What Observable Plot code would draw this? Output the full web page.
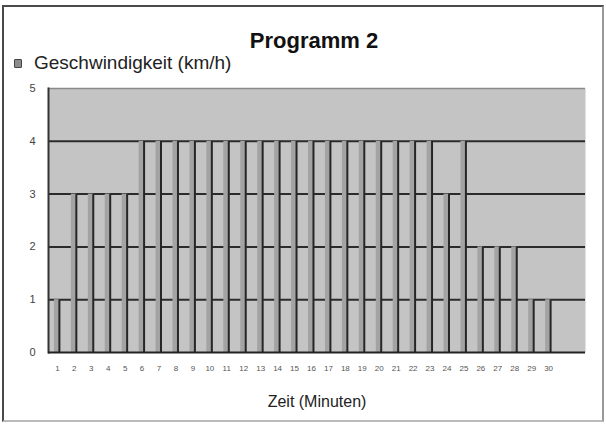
<!DOCTYPE html>
<html>
<head>
<meta charset="utf-8">
<script src="https://cdn.jsdelivr.net/npm/d3@7"></script>
<script src="https://cdn.jsdelivr.net/npm/@observablehq/plot@0.6"></script>
<style>
  html, body { margin: 0; padding: 0; background: #fff; }
  #wrap { position: relative; width: 606px; height: 426px; overflow: hidden; font-family: "Liberation Sans", Arial, sans-serif; }
  #box { position: absolute; left: 2px; top: 5px; width: 598px; height: 413px; border: 2px solid #4a4a4a; border-bottom-color: #bbb; border-right-color: #999; }
  #title { position: absolute; left: 0; width: 628px; top: 28px; text-align: center; font-size: 22px; font-weight: bold; color: #111; }
  #legend { position: absolute; left: 14px; top: 52px; font-size: 19px; color: #222; display: flex; align-items: center; }
  #legend .sw { width: 6px; height: 7px; background: #8c8c8c; border: 1px solid #444; border-radius: 1px; margin-right: 12px; }
  #chart { position: absolute; left: 0; top: 0; }
</style>
</head>
<body>
<div id="wrap">
  <div id="box"></div>
  <div id="chart"></div>
  <div id="title">Programm 2</div>
  <div id="legend"><span class="sw"></span><span>Geschwindigkeit (km/h)</span></div>
</div>
<script>
const minutes = d3.range(1, 31);
const speeds = [1, 3, 3, 3, 3, 4, 4, 4, 4, 4, 4, 4, 4, 4, 4, 4, 4, 4, 4, 4, 4, 4, 4, 3, 4, 2, 2, 2, 1, 1];
const yTicks = [0, 1, 2, 3, 4, 5];
const xLabel = "Zeit (Minuten)";

const data = minutes.map((m, i) => ({minute: m, speed: speeds[i]}));

const chart = Plot.plot({
  width: 606,
  height: 426,
  marginLeft: 48,
  marginRight: 21,
  marginTop: 88,
  marginBottom: 74,
  style: {background: "transparent", fontFamily: "Liberation Sans, Arial, sans-serif"},
  x: {type: "band", domain: minutes, range: [48, 557], round: false, paddingInner: 0.65, paddingOuter: 0.35, label: null},
  y: {domain: [0, 5], label: null},
  marks: [
    Plot.frame({fill: "#c4c4c4", stroke: null}),
    Plot.ruleY([5], {stroke: "#8a8a8a", strokeWidth: 1.5}),
    Plot.ruleY([1, 2, 3, 4], {stroke: "#2b2b2b", strokeWidth: 2}),
    Plot.barY(data, {x: "minute", y: "speed", fill: "#a3a3a3"}),
    Plot.ruleX(data, {x: "minute", y1: 0, y2: "speed", stroke: "#262626", strokeWidth: 2, dx: 2}),
    Plot.frame({anchor: "left", stroke: "#333", strokeWidth: 2}),
    Plot.ruleY([0], {stroke: "#222", strokeWidth: 2}),
    Plot.axisY(yTicks, {tickSize: 0, tickPadding: 13, fontSize: 11, fill: "#444", tickFormat: d => String(d)}),
    Plot.axisX({tickSize: 0, tickPadding: 13, fontSize: 8, fill: "#555", label: null}),
    Plot.text([xLabel], {frameAnchor: "bottom", dy: 54, fontSize: 16, fill: "#222"})
  ]
});
document.getElementById("chart").appendChild(chart);
</script>
</body>
</html>
